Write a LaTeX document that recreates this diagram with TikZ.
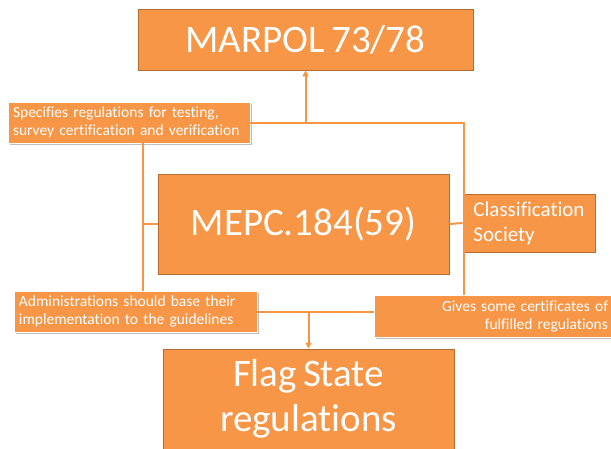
\documentclass[tikz,border=0pt]{standalone}
\usepackage{fontspec}
\setmainfont{Carlito}[Ligatures=NoCommon, WordSpace=0.7]
\usetikzlibrary{arrows.meta, shadows}
\definecolor{boxorange}{HTML}{F79646}
\definecolor{boxedge}{HTML}{B66D31}
\hyphenpenalty=10000

\begin{document}
\begin{tikzpicture}[x=1pt, y=-1pt,
        bigbox/.style={draw=boxedge, fill=boxorange, text=white, line width=0.8pt, inner sep=0pt, align=center},
        notebox/.style={draw=white, fill=boxorange, text=white, line width=0.8pt, inner ysep=0pt,
            drop shadow={shadow xshift=1.5pt, shadow yshift=-1.5pt, fill=black, opacity=0.25},
            font=\fontsize{15.5}{18}\selectfont},
        link/.style={boxorange, line width=2pt},
        linkarrow/.style={link, -{Triangle[length=6pt, width=6pt]}}]
        \useasboundingbox (0, 0) rectangle (611, 448);
        \clip (0, 0) rectangle (611, 448);

        \node[bigbox, minimum width=335pt, minimum height=61pt, font=\fontsize{39}{45}\selectfont] (marpol) at (305.5, 39.5) {MARPOL 73/78};
        \node[bigbox, minimum width=291pt, minimum height=100pt, font=\fontsize{39}{45}\selectfont] (mepc) at (303.5, 224) {MEPC.184(59)};
        \node[bigbox, minimum width=291pt, minimum height=100pt, font=\fontsize{39}{45}\selectfont] (flag) at (308.5, 399) {Flag State\\regulations};
        \node[bigbox, minimum width=132pt, minimum height=58pt, inner xsep=6pt, align=left, font=\fontsize{21}{25}\selectfont] (class) at (529, 223) {Classification\\Society};

        \node[notebox, inner xsep=5pt, text width=232pt, align=left, minimum height=41pt] (spec) at (129, 122.5) {Specifies regulations for testing,\\survey certification and verification};
        \node[notebox, inner xsep=5pt, text width=233pt, align=left, minimum height=41pt] (admin) at (135.5, 311.5) {Administrations should base their\\implementation to the guidelines};
        \node[notebox, inner xsep=7pt, text width=227pt, align=right, minimum height=42pt] (gives) at (494.5, 316) {Gives some certificates of\\fulfilled regulations};

        \coordinate (ljoin) at (143, 0);
        \coordinate (rjoin) at (464, 0);

        \draw[link] (spec.east) -| (rjoin |- gives.north);
        \draw[linkarrow] (spec.east -| marpol.south) -- (marpol.south);
        \draw[link] (spec.south -| ljoin) -- (admin.north -| ljoin);
        \draw[link] (mepc.west -| ljoin) -- (mepc.west);
        \draw[link] (mepc.east) -- (class.west);
        \draw[link] (admin.east) -- (admin.east -| gives.west);
        \draw[linkarrow] (admin.east -| flag.north) -- (flag.north);
\end{tikzpicture}
\end{document}
